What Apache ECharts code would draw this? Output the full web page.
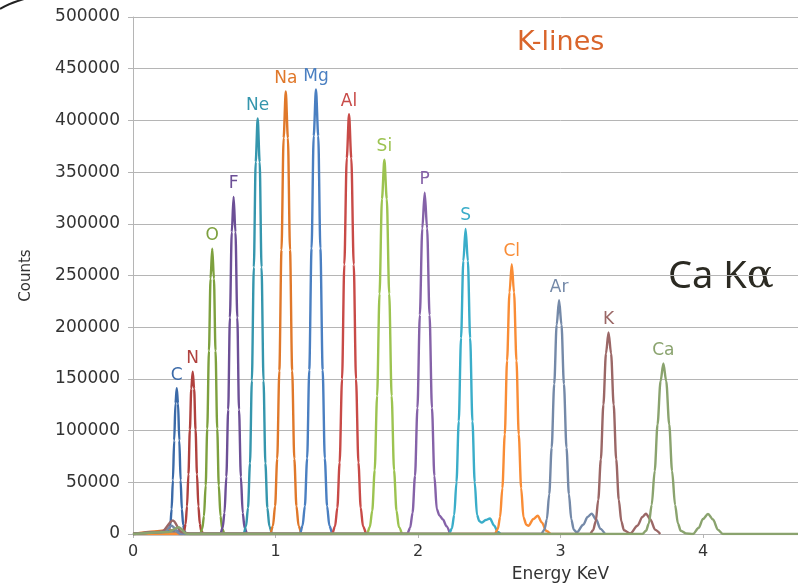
<!DOCTYPE html>
<html>
<head>
<meta charset="utf-8">
<script src="https://cdn.jsdelivr.net/npm/echarts@6/dist/echarts.min.js"></script>
<style>html,body{margin:0;padding:0;background:#fff;overflow:hidden;width:798px;height:588px}#chart{width:1000px;height:588px}</style>
</head>
<body>
<div id="chart"></div>
<script>
// ---- data (energy keV, counts) ----
const elements = ['C','N','O','F','Ne','Na','Mg','Al','Si','P','S','Cl','Ar','K','Ca'];
const xTicks = [0, 1, 2, 3, 4, 5, 6];
const yMax = 500000;
const yStep = 50000;

const specC  = [[0,0],[0.1,1000],[0.2,2500],[0.242,3000],[0.253,4000],[0.262,8800],[0.271,24000],[0.280,52000],[0.289,90500],[0.298,126200],[0.307,141000],[0.316,126200],[0.325,90500],[0.334,52000],[0.343,24000],[0.352,8800],[0.361,2600],[0.372,0]];
const specN  = [[0,0],[0.346,0],[0.359,2900],[0.369,9800],[0.379,26700],[0.389,57900],[0.399,100800],[0.409,140500],[0.419,157000],[0.429,140500],[0.439,100800],[0.449,57900],[0.459,26700],[0.469,9800],[0.479,2900],[0.492,0]];
const specO  = [[0,0],[0.472,0],[0.486,5100],[0.498,17300],[0.510,46900],[0.521,101800],[0.533,177200],[0.544,247000],[0.556,276000],[0.568,247000],[0.579,177200],[0.591,101800],[0.602,46900],[0.614,17300],[0.626,5100],[0.640,0]];
const specF  = [[0,0],[0.613,0],[0.629,6000],[0.642,20400],[0.655,55400],[0.668,120300],[0.680,209300],[0.693,291800],[0.706,326000],[0.719,291800],[0.732,209300],[0.744,120300],[0.757,55400],[0.770,20400],[0.783,6000],[0.799,0]];
const specNe = [[0,0],[0.776,0],[0.793,7400],[0.807,25100],[0.821,68300],[0.834,148300],[0.848,258100],[0.861,359800],[0.875,402000],[0.889,359800],[0.902,258100],[0.916,148300],[0.929,68300],[0.943,25100],[0.957,7400],[0.974,0]];
const specNa = [[0,0],[0.15,2500],[0.26,4000],[0.32,0],[0.963,0],[0.982,7900],[0.997,26800],[1.012,72800],[1.027,157900],[1.042,274800],[1.057,383100],[1.072,428000],[1.087,383100],[1.102,274800],[1.117,157900],[1.132,72800],[1.147,26800],[1.162,7900],[1.181,0]];
const specMg = [[0,0],[0.2,2000],[0.3,3500],[0.36,0],[1.171,0],[1.190,8000],[1.206,26900],[1.222,73100],[1.237,158700],[1.253,276100],[1.268,384900],[1.284,430000],[1.300,384900],[1.315,276100],[1.331,158700],[1.346,73100],[1.362,26900],[1.378,8000],[1.397,0]];
const specAl = [[0,0],[1.397,0],[1.418,7500],[1.434,25400],[1.450,69000],[1.467,149800],[1.483,260700],[1.500,363400],[1.516,406000],[1.532,363400],[1.549,260700],[1.565,149800],[1.582,69000],[1.598,25400],[1.614,7500],[1.635,0]];
const specSi = [[0,0],[1.641,0],[1.662,6700],[1.679,22600],[1.696,61500],[1.713,133600],[1.730,232400],[1.747,324000],[1.764,362000],[1.781,324000],[1.798,232400],[1.815,133600],[1.832,61500],[1.849,22600],[1.866,6700],[1.887,0]];
const specP  = [[0,0],[1.924,0],[1.945,6100],[1.962,20600],[1.979,56100],[1.996,121800],[2.013,211900],[2.030,295400],[2.047,330000],[2.064,295400],[2.081,211900],[2.098,121800],[2.115,56100],[2.132,24000],[2.150,18000],[2.175,14000],[2.200,7500],[2.225,0]];
const specS  = [[0,0],[2.218,0],[2.238,5500],[2.254,18400],[2.270,50200],[2.286,108900],[2.302,189400],[2.318,264000],[2.334,295000],[2.350,264000],[2.366,189400],[2.382,108900],[2.398,50200],[2.414,18400],[2.430,12500],[2.447,11000],[2.475,13500],[2.505,15000],[2.535,8000],[2.560,2000],[2.580,0]];
const specCl = [[0,0],[2.539,0],[2.560,4800],[2.576,16300],[2.592,44400],[2.609,96300],[2.625,167600],[2.642,233600],[2.658,261000],[2.674,233600],[2.691,167600],[2.707,96300],[2.724,44400],[2.740,16300],[2.760,9000],[2.775,8000],[2.810,14500],[2.840,17600],[2.870,11000],[2.900,3000],[2.930,0]];
const specAr = [[0,0],[0.22,2000],[0.27,8000],[0.33,0],[2.865,0],[2.887,4200],[2.904,14100],[2.921,38400],[2.938,83400],[2.956,145100],[2.973,202300],[2.990,226000],[3.007,202300],[3.024,145100],[3.042,83400],[3.059,38400],[3.076,14100],[3.093,4200],[3.114,1500],[3.160,9000],[3.190,16500],[3.219,19700],[3.250,14000],[3.280,5000],[3.312,0]];
const specK  = [[0,0],[0.2,2000],[0.28,13000],[0.34,2000],[0.4,0],[3.206,0],[3.229,3600],[3.247,12200],[3.265,33200],[3.283,72000],[3.301,125200],[3.319,174500],[3.337,195000],[3.355,174500],[3.373,125200],[3.391,72000],[3.409,33200],[3.427,12200],[3.445,3600],[3.490,500],[3.540,8000],[3.575,16500],[3.600,19700],[3.630,14000],[3.665,4000],[3.700,0]];
const specCa = [[0,0],[0.25,2000],[0.32,6500],[0.38,0],[3.574,0],[3.600,3100],[3.620,10300],[3.640,28100],[3.661,60900],[3.681,105900],[3.702,147700],[3.722,165000],[3.742,147700],[3.763,105900],[3.783,60900],[3.804,28100],[3.824,10300],[3.844,3100],[3.880,600],[3.930,0],[3.970,6000],[4.000,14500],[4.035,19400],[4.070,14000],[4.105,4000],[4.140,0],[6,0]];

// ---- styles ----
const palette = ['#3b6aa8','#b0413e','#7da03e','#6c4f96','#3596ad','#e0782a','#4a7fc1','#c84a47','#9cc350','#8562a8','#3aadc9','#f98c35','#7489a8','#9b6766','#8aa36e'];
const FONT = '"DejaVu Sans", sans-serif';

const spectra = [specC,specN,specO,specF,specNe,specNa,specMg,specAl,specSi,specP,specS,specCl,specAr,specK,specCa];

const series = spectra.map((data, i) => {
  const top = data.reduce((a, b) => (b[1] > a[1] ? b : a));
  return {
    name: elements[i],
    type: 'line',
    data: data,
    smooth: 0.3,
    smoothMonotone: 'x',
    showSymbol: false,
    lineStyle: { color: palette[i], width: 2.4 },
    itemStyle: { color: palette[i] },
    markPoint: {
      symbol: 'circle',
      symbolSize: 1,
      itemStyle: { color: 'rgba(0,0,0,0)' },
      label: {
        show: true, position: 'top', distance: 4,
        formatter: elements[i], color: palette[i],
        fontSize: 17, fontFamily: FONT
      },
      data: [{ coord: top }]
    }
  };
});

const chart = echarts.init(document.getElementById('chart'), null, { renderer: 'canvas' });
chart.setOption({
  animation: false,
  backgroundColor: '#ffffff',
  grid: { left: 133, top: 17, width: 855, height: 520 },
  xAxis: {
    type: 'value', min: xTicks[0], max: xTicks[xTicks.length - 1], interval: 1,
    name: 'Energy KeV', nameLocation: 'middle', nameGap: 32,
    nameTextStyle: { fontSize: 17, color: '#333', fontFamily: FONT },
    axisLine: { show: true, lineStyle: { color: '#b5b5b5', width: 1 } },
    axisTick: { show: true, length: 4, lineStyle: { color: '#b5b5b5' } },
    axisLabel: { fontSize: 16, color: '#333', margin: 10, fontFamily: FONT },
    splitLine: { show: false }
  },
  yAxis: {
    type: 'value', min: 0, max: yMax, interval: yStep,
    name: 'Counts', nameLocation: 'middle', nameGap: 99, nameRotate: 90,
    nameTextStyle: { fontSize: 15, color: '#333', fontFamily: FONT },
    axisLine: { show: true, lineStyle: { color: '#b5b5b5', width: 1 } },
    axisTick: { show: true, length: 5, lineStyle: { color: '#b5b5b5' } },
    axisLabel: { fontSize: 17, color: '#333', margin: 13, fontFamily: FONT, formatter: (v) => String(v) },
    splitLine: { show: true, lineStyle: { color: '#b5b5b5', width: 1 } }
  },
  series: series,
  graphic: [
    { type: 'text', x: 517, y: 43, style: { text: 'K-lines', font: '27px "DejaVu Sans"', fill: '#d9652b', verticalAlign: 'middle', textVerticalAlign: 'middle' } },
    { type: 'text', x: 668, y: 277, style: {
        text: '{a|Ca K}{b|\u03B1}', verticalAlign: 'middle', textVerticalAlign: 'middle',
        rich: {
          a: { fontSize: 38, fontFamily: '"Noto Sans"', fill: '#2b2a22', color: '#2b2a22' },
          b: { fontSize: 40, fontFamily: '"DejaVu Serif"', fill: '#2b2a22', color: '#2b2a22' }
        } } },
    { type: 'bezierCurve', shape: { x1: 0, y1: 9, cpx1: 8, cpy1: 4, cpx2: 14, cpy2: 2, x2: 24, y2: -1 }, style: { stroke: '#222', lineWidth: 2, fill: 'none' } }
  ]
});
</script>
</body>
</html>
